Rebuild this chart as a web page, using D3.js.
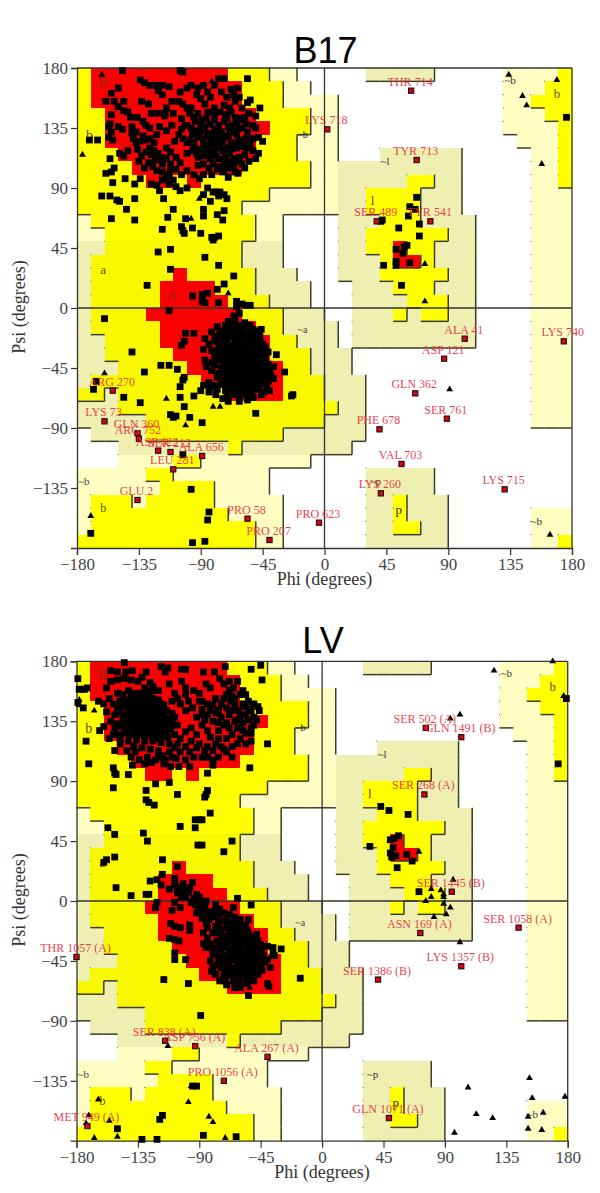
<!DOCTYPE html>
<html><head><meta charset="utf-8">
<style>html,body{margin:0;padding:0;background:#fff}svg{display:block}</style>
<script src="https://cdnjs.cloudflare.com/ajax/libs/d3/7.8.5/d3.min.js"></script>
</head><body><svg id="c" width="600" height="1193"></svg>
<script>
// Region map: 36 rows (psi 180 -> -180), 36 cols (phi -180 -> 180), 10 degree cells
const regionRows = [
"YRRRRRRRRRRYYYLL.....TTTTT.....LLLLY",
"YRRRRRRRRRRRYYYLL..............LLLYY",
"YRRRRRRRRRRRYYYLLLL............LLYYY",
"YYRRRRRRRRRRRYYYYLL............LLLYY",
"YYRRRRRRRRRRRRYYYLL............LLLLY",
"YYRRRRRRRRRRRYYYLLL.............LLLY",
"YYYRRRRRRRRRRYYYLLL...TTTTTT.....LLY",
"YYYYRRRRRRRRYYYYYLLTTTTTTTTT.....LLY",
"YYYYYRRYRYYYYYYYYLLTTTTTYYTT.....LLY",
"YYYYYYYYYYYYYYLLLLLTTYYYYTTT.....LLL",
"YYYYYYYYYYYYLLLLLLLTTYYYYTTT.....LLL",
"LYYYYYYYYYYYYLL....TTTYYYTTTT....LLL",
"LLYYYYYYYYYYYLL....TTYYYYYYTT....LLL",
"TTyyyyyyyyyyTTT....TTYYRYYTTT....LLL",
"TyyyyyyyyyyyTTT....TTTYRRYTTT....LLL",
"TyyyyyyRyyyyyTTT...TTTYYYYYTT....LLL",
"TyyyyyRRRRyyyTTTT...TTTYYYTTT....LLL",
"TyyyyyRRRRRyyyTTT...TTTTYYYTT....LLL",
"TyyyyRRRRRRRyyyTTT..TTTYTYYTT....LLL",
"TyyyyyRRRRRRRyyTTTT.TTTTTTTTT....LLL",
"TTyyyyRRRRRRRRyyTTT.TTTTTTTTT....LLL",
"TTyyyyyRRRRRRRyyyTTT.............LLL",
"TTTyyyyyRRRRRRRyyTTT.............LLL",
"TyyyyyyyyRRRRRRyyyTTT............LLL",
"yyTyyyyyyyyRRRRyyyTTT............LLL",
"TTTyyyyyyyyyyyyyyyYTT............LLL",
"TTTTTyyyyyyyyyyyyyTTT............LLL",
".TTTTyyyyyyyyyyTTTTTT...............",
"...TTTTTTTTYTTTTTTTT................",
"...LLLLYYLLLLLLLL...................",
"LLLLLYYLLLLLLL.......TTTTT..........",
"LLLLLLYYYYLLLL.......TTTTT..........",
"LYYYLYYYYYLLLLL......TTYTTT.........",
"LYYYYYYYYYYLLLL......TTYTTT......LLL",
"LYYYYYYYYYYYYLL......TTYYTT......LLL",
"YYYYYYYYYYYYYLL......TTTTTT......LLY"
];
const regionColors = {R:"#fa0000",Y:"#ffff00",y:"#f8f800",L:"#fefec2",T:"#efefb2"};
const regionRank = {R:4,Y:3,y:3,L:2,T:2,".":0};
const phiTicks = [-180,-135,-90,-45,0,45,90,135,180];
const psiTicks = [180,135,90,45,0,-45,-90,-135];

// region letters: [text, phi, psi, size, colour]
const regionNames = [
["B",-161,170,15,"#a02010"],["A",-111,9,15,"#a02010"],["b",-171,130,14,"#5a5000"],["a",-161,29,13,"#5a5000"],
["~b",-16,130,10,"#222"],["~a",-16,-16,10,"#444"],["~b",-175,-130,11,"#444"],["b",-161,-150,12,"#5a5000"],
["~b",135,171,11,"#333"],["b",169,161,13,"#5a5000"],["~l",44,110,11,"#333"],["l",35,81,13,"#5a5000"],
["~b",154,-160,11,"#333"],["~p",37,-130,11,"#333"],["p",54,-151,13,"#333"]
];

// ---- B17 ----
const b17Squares = [
[-147,178],[-105,178],[-103,177],[-77,172],[-73,172],[-56,172],[-134,171],[-131,169],[-127,167],[-150,165],[-122,167],[-118,167],[-113,166],[-105,162],[-100,165],[-97,167],[-88,167],[-92,165],[-80,167],[-68,164],[-63,165],[-85,162],
[-155,161],[-159,155],[-153,155],[-150,151],[-146,155],[-146,148],[-133,155],[-128,153],[-121,163],[-118,160],[-115,150],[-116,146],[-111,155],[-106,155],[-103,153],[-100,150],[-97,150],[-93,160],[-90,157],[-87,153],[-83,158],[-80,150],[-75,162],[-71,158],[-66,160],[-65,155],[-62,158],[-60,150],[-56,154],[-54,156],[-69,150],[-73,152],
[-155,145],[-143,147],[-141,143],[-136,143],[-132,140],[-126,146],[-121,146],[-116,144],[-110,146],[-104,142],[-98,146],[-94,140],[-89,141],[-85,147],[-80,145],[-76,147],[-72,145],[-68,147],[-65,143],[-60,141],[-55,146],[-50,144],[-47,150],[-157,136],[-155,132],[-156,138],[-150,136],[-147,134],[-130,137],[-127,135],[-120,136],[-115,133],[-111,137],[-104,134],[-100,137],[-96,130],[-90,133],[-87,136],[-84,128],[-80,134],[-77,137],[-75,132],[-70,136],[-67,137],[-63,134],[-60,135],[-56,132],[-52,137],[-50,135],
[-157,128],[-154,126],[-140,131],[-139,127],[-137,124],[-132,129],[-130,126],[-127,127],[-124,124],[-122,130],[-109,125],[-106,130],[-103,127],[-100,124],[-95,124],[-92,128],[-88,122],[-85,122],[-82,125],[-80,122],[-77,128],[-74,125],[-70,128],[-68,123],[-64,130],[-62,126],[-60,121],[-57,127],[-52,127],[-48,128],[-45,125],
[-149,116],[-146,114],[-143,118],[-136,119],[-133,114],[-130,117],[-126,115],[-123,111],[-128,109],[-118,108],[-115,120],[-112,117],[-108,113],[-105,109],[-100,116],[-96,118],[-92,113],[-90,119],[-86,116],[-83,112],[-80,117],[-77,112],[-74,118],[-72,113],[-69,116],[-67,108],[-64,120],[-62,113],[-58,115],[-55,110],[-52,118],[-50,112],[-48,116],
[-122,103],[-118,102],[-113,100],[-108,104],[-104,100],[-100,103],[-95,100],[-91,97],[-88,100],[-82,100],[-78,104],[-74,102],[-70,98],[-66,106],[-63,101],[-134,97],[-126,93],[-122,92],[-120,88],[-113,93],[-110,96],[-108,91],[-105,88],[-100,90],[-159,101],[-155,102],[-153,105],[-156,112],[-154,94],[-145,97],[-138,93],[-171,126],[-165,126],
[-81,87],[-79,87],[-76,87],[-73,85],[-71,82],[-77,84],[-83,80],[-88,85],[-85,90],
[-162,84],[-156,84],[-151,81],[-149,80],[-138,82],[-117,82],[-144,74],[-155,67],[-138,66],[-110,74],[-114,68],[-101,67],[-88,74],[-88,69],[-78,70],[-73,73],[-74,66],[-118,59],[-104,61],[-103,58],[-102,56],[-96,60],[-90,56],[-82,53],[-80,53],[-77,54],[-81,51],[-121,42],[-112,44],[-87,38],[-77,32],[-112,29],[-66,24],[-129,17],[-73,18],[-78,14],[-96,9],[-89,10],[-85,11],[-89,5],[-87,4],[-77,4],[-64,5],[-60,3],[-57,2],[-54,2],[-64,1],
[-160,-8],[-140,-33],[-131,-48],[-119,-43],[-113,-43],[-107,-46],[-103,-54],[-102,-52],[-105,-59],[-105,-67],[-95,-66],[-102,-74],[-112,-80],[-110,-82],[-108,-81],[-98,-82],[-89,-86],[-134,-71],[-146,-67],[-168,-61],[-166,-55],[-50,-79],[-23,-65],[-24,-66],[-35,-35],[-29,-48],[-46,-16],[-113,-2],[-101,-19],[-95,-19],[-102,-25],[-104,-28],[-103,-110],
[-66,-6],[-62,-4],[-70,-10],[-65,-9],[-58,-11],[-54,-13],[-78,-14],[-72,-13],[-67,-15],[-62,-14],[-56,-15],[-52,-16],[-82,-18],[-76,-19],[-71,-17],[-66,-19],[-61,-18],[-57,-20],[-52,-21],[-48,-18],[-87,-23],[-80,-22],[-74,-24],[-69,-22],[-64,-23],[-59,-22],[-54,-25],[-50,-23],[-84,-27],[-76,-28],[-71,-26],[-67,-28],[-62,-27],[-57,-29],[-53,-26],[-49,-28],[-45,-27],[-88,-31],[-82,-32],[-77,-30],[-73,-33],[-68,-31],[-64,-32],[-60,-30],[-55,-33],[-50,-31],[-46,-33],[-80,-36],[-76,-35],[-71,-37],[-66,-35],[-62,-36],[-58,-34],[-53,-37],[-48,-35],[-43,-37],[-87,-39],[-82,-41],[-78,-39],[-72,-40],[-68,-39],[-64,-41],[-59,-40],[-55,-38],[-51,-41],[-45,-39],[-41,-42],[-86,-44],[-80,-43],[-75,-45],[-70,-43],[-65,-44],[-61,-46],[-57,-43],[-52,-45],[-47,-43],[-42,-46],[-37,-44],[-82,-47],[-77,-49],[-72,-47],[-68,-50],[-63,-48],[-58,-49],[-54,-47],[-49,-50],[-44,-48],[-39,-50],[-78,-52],[-73,-53],[-68,-54],[-64,-52],[-60,-55],[-55,-52],[-50,-54],[-45,-52],[-41,-55],[-37,-53],[-84,-56],[-80,-58],[-75,-57],[-70,-58],[-65,-56],[-61,-59],[-56,-57],[-52,-58],[-47,-56],[-42,-59],[-88,-58],[-83,-60],[-78,-61],[-72,-62],[-68,-60],[-63,-62],[-58,-61],[-53,-63],[-48,-60],[-44,-63],[-90,-62],[-84,-63],[-79,-65],[-71,-66],[-66,-65],[-62,-66],[-57,-65],[-52,-67],[-46,-65],[-40,-62],[-74,-68],[-70,-70],[-62,-70],[-56,-69],[-52,-67],
[-97,-136],[-84,-153],[-85,-159],[-96,-176],[-87,-175],[-170,-169],
[67,83],[62,76],[66,74],[61,69],[42,66],[41,65],[69,63],[54,60],[69,54],[60,47],[58,46],[52,44],[57,41],[52,35],[52,32],[62,34],[43,32],[56,17],[176,143]
];
const b17CloudMore = [
[-98,148],[-95,143],[-92,146],[-90,137],[-86,142],[-83,138],[-80,141],[-78,133],[-73,140],[-71,142],[-69,132],[-66,134],[-64,139],[-62,142],[-58,143],[-57,138],[-97,135],[-94,133],[-91,130],[-88,127],[-85,131],[-82,130],[-79,126],[-76,124],[-73,129],[-71,120],[-68,119],[-65,124],[-62,122],[-59,124],[-56,120],[-54,122],[-98,126],[-95,120],[-93,116],[-88,114],[-85,118],[-82,116],[-79,114],[-76,120],[-73,108],[-70,110],[-66,112],[-63,110],[-60,108],[-58,105],[-92,107],[-88,108],[-84,105],[-81,108],[-77,106],[-73,103],[-69,105],[-65,102],
[-140,136],[-137,132],[-134,125],[-127,120],[-124,118],[-121,116],[-118,113],[-115,112],[-112,108],[-135,110],[-131,105],[-125,106],[-118,96],[-115,98],[-112,104]
];
const b17CoreMore = [
[-68,-13],[-63,-13],[-58,-13],[-74,-17],[-69,-17],[-64,-17],[-59,-17],[-54,-17],[-49,-17],[-77,-21],[-72,-21],[-67,-21],[-62,-21],[-57,-21],[-52,-21],[-47,-21],[-79,-25],[-73,-25],[-65,-25],[-60,-25],[-55,-25],[-51,-25],[-47,-25],[-75,-29],[-70,-29],[-65,-29],[-59,-29],[-52,-29],[-47,-29],[-43,-29],[-78,-33],[-74,-33],[-69,-33],[-64,-33],[-60,-33],[-56,-33],[-51,-33],[-45,-33],[-41,-33],[-74,-37],[-69,-37],[-64,-37],[-60,-37],[-56,-37],[-50,-37],[-46,-37],[-74,-41],[-70,-41],[-66,-41],[-62,-41],[-57,-41],[-53,-41],[-48,-41],[-44,-41],[-73,-45],[-68,-45],[-63,-45],[-59,-45],[-55,-45],[-50,-45],[-45,-45],[-40,-45],[-75,-49],[-70,-49],[-65,-49],[-61,-49],[-56,-49],[-52,-49],[-47,-49],[-42,-49],[-71,-53],[-66,-53],[-62,-53],[-57,-53],[-53,-53],[-48,-53],[-43,-53],[-73,-57],[-68,-57],[-63,-57],[-58,-57],[-54,-57],[-49,-57],[-45,-57],[-70,-61],[-65,-61],[-60,-61],[-55,-61],[-50,-61]
];
const b17Triangles = [[-70,11],[-91,82],[-97,67],[-176,115],[-103,137],[-82,170],[-162,175],[-160,-49],[-115,-68],[-81,-74],[-76,-74],[-101,-88],[-170,-156],[73,33],[73,5],[134,175],[169,171],[144,159],[147,152],[158,108],[91,-61],[164,-170]];
const b17Labels = [
["THR 714",63,163],["LYS 718",2,134],["TYR 713",67,111],["SER 489",38,65],["TYR 541",77,65],["ALA 41",102,-23],["LYS 740",174,-25],["ASP 121",87,-38],["GLN 362",66,-64],["SER 761",89,-83],["PHE 678",40,-91],["VAL 703",56,-117],["LYS 260",41,-139],["LYS 715",131,-136],["PRO 623",-4,-161],
["ARG 270",-154,-62],["LYS 73",-160,-85],["GLN 360",-136,-94],["ARG 752",-135,-98],["ASP 622",-121,-107],["SER 212",-112,-108],["ALA 656",-89,-111],["LEU 281",-110,-121],["GLU 2",-136,-144],["PRO 58",-56,-158],["PRO 207",-40,-174]
];

// ---- LV ----
const lvSquares = [
[-145,179],[-155,173],[-150,172],[-144,172],[-139,173],[-129,172],[-118,176],[-113,175],[-115,172],[-103,174],[-100,174],[-87,172],[-79,172],[-71,176],[-52,174],[-45,177],[-44,166],[-179,167],[-178,159],[-176,159],[-174,159],[-172,160],[-179,149],[-175,145],[-163,128],[-160,131],[-173,120],[-171,103],
[-164,150],[-160,148],[-158,160],[-155,165],[-150,166],[-145,167],[-140,166],[-135,165],[-130,160],[-125,158],[-120,158],[-158,142],[-155,135],[-152,130],[-150,125],[-148,118],[-152,113],[-143,113],[-137,112],
[-150,156],[-146,155],[-142,158],[-138,156],[-134,156],[-130,155],[-126,153],[-122,150],[-148,150],[-144,151],[-140,150],[-136,151],[-132,150],[-128,149],[-124,148],[-120,146],[-116,147],[-150,145],[-146,146],[-142,145],[-138,146],[-134,145],[-130,146],[-126,144],[-122,145],[-118,143],[-114,143],[-110,141],[-148,141],[-144,140],[-140,141],[-136,140],[-132,141],[-128,140],[-124,141],[-120,139],[-116,138],[-112,137],[-108,138],[-146,136],[-142,135],[-138,136],[-134,135],[-130,136],[-126,135],[-122,136],[-118,134],[-114,133],[-110,134],[-106,132],[-147,131],[-143,130],[-139,131],[-135,130],[-131,131],[-127,130],[-123,131],[-119,129],[-115,128],[-111,129],[-145,126],[-141,125],[-137,126],[-133,125],[-129,126],[-125,125],[-121,126],[-117,124],[-113,123],[-108,125],[-148,122],[-142,120],[-136,121],[-130,120],[-124,120],[-118,119],[-112,118],[-106,118],[-138,116],[-132,115],[-126,114],[-120,113],
[-128,108],[-122,106],[-117,109],[-112,112],[-107,107],[-104,112],[-100,106],[-134,106],[-130,103],[-116,103],[-111,101],[-105,101],
[-103,165],[-100,160],[-100,155],[-98,150],[-94,158],[-90,156],[-88,150],[-85,163],[-82,160],[-78,152],[-75,167],[-72,163],[-68,165],[-65,160],[-62,165],[-58,158],[-56,155],[-104,148],[-100,143],[-95,145],[-92,138],[-88,144],[-84,140],[-80,147],[-76,143],[-74,138],[-70,145],[-67,150],[-64,147],[-61,143],[-58,148],[-54,150],[-50,148],[-47,146],[-52,143],[-56,140],[-60,138],[-64,135],[-68,140],[-72,132],[-76,128],[-80,135],[-84,128],[-88,132],[-92,125],[-96,130],[-100,127],[-104,122],[-62,130],[-58,134],[-54,136],[-50,132],[-56,126],[-52,126],[-66,125],[-70,122],[-74,116],[-78,118],[-82,123],[-86,113],[-90,118],[-94,108],[-97,112],[-84,108],[-80,106],[-76,108],[-72,114],[-66,116],[-62,118],[-80,102],[-97,101],[-53,100],[-40,118],
[-153,100],[-152,96],[-151,95],[-153,85],[-142,95],[-139,102],[-129,83],[-129,76],[-127,74],[-123,72],[-122,88],[-112,89],[-106,80],[-84,83],[-85,80],[-86,78],[-84,96],[-82,66],[-93,61],[-90,61],[-88,61],[-104,56],[-93,55],[-157,55],[-152,50],[-131,51],[-128,45],[-91,42],[-88,42],[-72,37],[-66,45],[-158,31],[-160,29],[-152,33],[-117,31],[-106,26],[-126,15],[-121,16],[-117,20],[-118,12],[-151,10],[-140,4],[-129,5],[-127,5],[-62,2],
[-122,-5],[-121,-1],[-110,-7],[-108,-1],[-104,-5],[-102,13],[-108,17],[-100,8],[-95,14],[-92,5],[-112,9],[-106,6],[-96,-1],[-90,-1],[-86,-4],[-82,-8],[-78,-3],[-92,-9],[-88,-13],[-83,-14],[-76,-11],[-72,-15],[-78,-19],[-84,-20],[-74,-21],
[-111,-17],[-108,-19],[-104,-20],[-97,-18],[-97,-22],[-112,-28],[-108,-29],[-105,-30],[-108,-39],[-108,-44],[-100,-44],[-87,-24],[-87,-32],[-85,-35],[-81,-53],[-77,-48],[-72,-59],[-71,-60],[-40,-62],[-39,-64],[-54,-71],[-52,-59],[-116,-59],[-98,-62],[-89,-86],[-16,-58],[-30,-36],[-36,-35],[-35,-41],[-52,-3],[-65,-5],[-54,-14],
[-66,-16],[-62,-14],[-58,-18],[-70,-20],[-64,-21],[-60,-20],[-55,-22],[-74,-26],[-68,-25],[-63,-26],[-58,-25],[-53,-27],[-48,-25],[-77,-30],[-72,-31],[-67,-30],[-62,-31],[-57,-29],[-52,-32],[-47,-30],[-80,-35],[-75,-36],[-70,-35],[-65,-36],[-60,-34],[-55,-36],[-50,-35],[-44,-36],[-40,-34],[-78,-40],[-73,-41],[-68,-39],[-63,-41],[-58,-40],[-53,-41],[-48,-39],[-43,-41],[-76,-45],[-71,-46],[-66,-44],[-61,-46],[-56,-44],[-51,-46],[-46,-44],[-42,-46],[-74,-50],[-69,-51],[-64,-50],[-59,-52],[-54,-50],[-49,-51],[-45,-49],[-72,-55],[-67,-56],[-62,-55],[-57,-56],[-52,-54],[-47,-55],[-65,-60],[-60,-60],[-64,-65],
[-132,-179],[-121,-179],[-150,-171],[-119,-164],[-117,-161],[-95,-139],[-92,-139],[-87,-176],[-63,-177],
[43,71],[49,68],[63,65],[35,41],[56,49],[50,46],[53,47],[52,40],[50,36],[51,33],[54,34],[62,35],[66,30],[55,25],[71,7],[179,152],[173,103]
];
const lvCloudMore = [
[-140,153],[-136,154],[-132,153],[-128,152],[-124,152],[-120,151],[-142,148],[-138,148],[-134,148],[-130,148],[-126,147],[-122,147],[-118,148],[-140,143],[-136,143],[-132,143],[-128,143],[-124,143],[-120,143],[-116,141],[-142,138],[-138,138],[-134,138],[-130,138],[-126,138],[-122,138],[-118,137],[-114,136],[-140,133],[-136,133],[-132,133],[-128,133],[-124,133],[-120,132],[-116,131],[-112,131],[-138,128],[-134,128],[-130,128],[-126,128],[-122,128],[-118,126],[-114,126],[-136,123],[-130,123],[-124,122],[-120,122],
[-132,168],[-126,164],[-124,161],[-112,163],[-108,156],[-106,152],[-110,150],[-156,152],[-153,148],[-152,140],[-150,133],[-153,125],[-156,122],[-140,108],[-125,104],[-120,108],[-115,106],[-110,108],[-100,116],[-108,115],
[-90,150],[-88,140],[-86,136],[-84,148],[-82,143],[-78,141],[-76,134],[-74,148],[-72,152],[-70,134],[-68,130],[-66,143],[-64,152],[-62,136],[-60,130],[-58,128],[-56,146],[-54,144],[-52,130],[-50,138],[-48,136],[-46,143],[-96,120],[-92,115],[-88,108],[-84,116],[-70,112],[-66,108],[-76,122],[-80,113],[-60,122],[-56,118],[-52,120],[-70,155],[-68,158],[-66,154],[-60,155]
];
const lvCoreMore = [
[-108,12],[-106,10],[-104,8],[-103,3],[-100,3],[-98,7],[-97,10],[-94,2],[-90,3],[-88,-1],[-85,0],[-93,-3],[-90,-6],[-87,-8],[-84,-10],[-81,-12],[-85,-17],[-78,-7],[-75,-6],[-72,-9],[-70,-13],[-68,-10],[-76,-16],[-80,-24],[-76,-24],[-72,-26],[-84,-28],[-82,-32],[-80,-40],[-82,-45],[-80,-50],[-78,-55],[-75,-60],[-70,-63],[-60,-65],[-55,-62],[-50,-60],[-44,-52],[-40,-44],[-38,-50],[-36,-40],
[-64,-12],[-60,-14],[-68,-17],[-64,-18],[-60,-16],[-56,-19],[-68,-22],[-62,-23],[-58,-22],[-54,-24],[-72,-28],[-66,-27],[-60,-28],[-55,-29],[-50,-28],[-75,-33],[-70,-32],[-65,-33],[-60,-32],[-55,-33],[-50,-33],[-45,-33],[-74,-38],[-68,-36],[-64,-38],[-60,-38],[-55,-38],[-50,-38],[-46,-38],[-74,-43],[-70,-43],[-66,-42],[-62,-43],[-58,-42],[-54,-43],[-50,-43],[-46,-42],[-72,-48],[-68,-48],[-62,-48],[-58,-48],[-53,-48],[-48,-47],[-70,-53],[-66,-53],[-60,-53],[-55,-53],[-50,-53],[-65,-57],[-60,-57],[-55,-58]
];
const lvTriangles = [[-178,147],[-178,151],[-167,143],[-164,-149],[-171,-161],[-173,-167],[-167,-178],[-156,-165],[-150,-177],[-113,-109],[-98,-151],[-83,-162],[-80,-166],[-71,-178],[-96,-139],[-53,-65],
[71,37],[96,16],[80,9],[87,8],[89,5],[80,3],[76,0],[89,3],[89,-2],[94,-5],[91,-10],[82,-12],[101,-31],[107,-140],[113,-160],[125,-163],[97,-174],[152,-133],[154,-148],[178,-147],[162,-159],[151,-162],[151,-171],[161,-172],[126,173],[169,180],[94,137],[101,140],[177,154]];
const lvLabels = [
["SER 502 (A)",76,130],["GLN 1491 (B)",102,123],["SER 268 (A)",75,80],["SER 1445 (B)",95,7],["ASN 169 (A)",72,-24],["SER 1058 (A)",144,-20],["LYS 1357 (B)",102,-49],["SER 1386 (B)",41,-59],["GLN 1071 (A)",49,-163],["THR 1057 (A)",-180,-42],["SER 838 (A)",-115,-105],["ASP 756 (A)",-93,-109],["ALA 267 (A)",-40,-117],["PRO 1056 (A)",-72,-135],["MET 949 (A)",-172,-169]
];

const svg = d3.select("#c");
const serif = "'Liberation Serif','Times New Roman',serif";

function panel(title, titleX, titleY, frame, squares, triangles, labels){
  const x = d3.scaleLinear().domain([-180,180]).range([frame.x0,frame.x1]);
  const y = d3.scaleLinear().domain([-180,180]).range([frame.y1,frame.y0]);
  const g = svg.append("g");
  const cells = [];
  regionRows.forEach((row,r)=>{ for(let c=0;c<36;c++){ cells.push({r,c,k:row[c]}); }});
  const at=(r,c)=> (r<0||r>35||c<0||c>35) ? "." : regionRows[r][c];
  const px=c=>x(-180+c*10), py=r=>y(180-r*10);
  g.append("g").attr("shape-rendering","crispEdges").selectAll("rect").data(cells.filter(d=>d.k!=="."))
    .join("rect").attr("x",d=>px(d.c)).attr("y",d=>py(d.r))
    .attr("width",d=>px(d.c+1)-px(d.c)+.5).attr("height",d=>py(d.r+1)-py(d.r)+.5)
    .attr("fill",d=>regionColors[d.k]);
  const edges=[], dots=[];
  cells.forEach(d=>{
    const rk=regionRank[d.k];
    if(rk===0) return;
    const noBorder = d.k==="R" && d.c<18;
    if(!noBorder && d.c<35 && regionRank[at(d.r,d.c+1)]<rk) edges.push([px(d.c+1),py(d.r),px(d.c+1),py(d.r+1)]);
    if(!noBorder && d.r<35 && regionRank[at(d.r+1,d.c)]<rk) edges.push([px(d.c),py(d.r+1),px(d.c+1),py(d.r+1)]);
    if(d.c>0 && rk<4 && regionRank[at(d.r,d.c-1)]<rk) dots.push([px(d.c),py(d.r)]);
  });
  g.append("g").selectAll("line").data(edges).join("line")
    .attr("x1",d=>d[0]).attr("y1",d=>d[1]).attr("x2",d=>d[2]).attr("y2",d=>d[3])
    .attr("stroke","#3c3c28").attr("stroke-width",1.5);
  g.append("g").selectAll("rect").data(dots).join("rect")
    .attr("x",d=>d[0]-.5).attr("y",d=>d[1]-.5).attr("width",1).attr("height",1).attr("fill","#666");
  const ax = d3.axisBottom(x).tickValues(phiTicks).tickSize(7).tickPadding(3);
  const ay = d3.axisLeft(y).tickValues(psiTicks).tickSize(6).tickPadding(3);
  const styleAxis=s=>{s.selectAll("text").attr("font-family",serif).attr("font-size",17).attr("fill","#444");
    s.selectAll("line").attr("stroke","#333").attr("stroke-width",1.2);
    s.select(".domain").attr("stroke","#333").attr("stroke-width",1.3);};
  g.append("g").attr("transform",`translate(0,${frame.y1})`).call(ax).call(styleAxis);
  g.append("g").attr("transform",`translate(${frame.x0},0)`).call(ay).call(styleAxis);
  const gl=g.append("g").attr("stroke","#333").attr("stroke-width",1.3);
  gl.append("line").attr("x1",frame.x0).attr("x2",frame.x1).attr("y1",y(180)).attr("y2",y(180));
  gl.append("line").attr("x1",frame.x1).attr("x2",frame.x1).attr("y1",y(180)).attr("y2",y(-180));
  gl.append("line").attr("x1",x(0)).attr("x2",x(0)).attr("y1",y(180)).attr("y2",y(-180));
  gl.append("line").attr("x1",frame.x0).attr("x2",frame.x1).attr("y1",y(0)).attr("y2",y(0));
  g.append("g").selectAll("text").data(regionNames).join("text")
    .attr("x",d=>x(d[1])).attr("y",d=>y(d[2])).attr("dy","0.35em").attr("text-anchor","middle")
    .attr("font-family",serif).attr("font-size",d=>d[3]).attr("fill",d=>d[4]).text(d=>d[0]);
  const s=6.8;
  g.append("g").selectAll("rect").data(squares).join("rect")
    .attr("x",d=>x(d[0])-s/2).attr("y",d=>y(d[1])-s/2).attr("width",s).attr("height",s).attr("fill","#000");
  const tri=d3.symbol().type(d3.symbolTriangle).size(20);
  g.append("g").selectAll("path").data(triangles).join("path")
    .attr("transform",d=>`translate(${x(d[0])},${y(d[1])})`).attr("d",tri).attr("fill","#000");
  g.append("g").selectAll("rect").data(labels).join("rect")
    .attr("x",d=>x(d[1])-2.6).attr("y",d=>y(d[2])-2.6).attr("width",5.2).attr("height",5.2)
    .attr("fill","#e00010").attr("stroke","#111").attr("stroke-width",1.1);
  g.append("g").selectAll("text").data(labels).join("text")
    .attr("x",d=>x(d[1])-1).attr("y",d=>y(d[2])-5).attr("text-anchor","middle")
    .attr("font-family",serif).attr("font-size",12).attr("fill","#e8283c").attr("fill-opacity",.9).text(d=>d[0]);
  g.append("text").attr("x",titleX).attr("y",titleY).attr("text-anchor","middle")
    .attr("font-family","'Liberation Sans',Arial,sans-serif").attr("font-size",36).attr("fill","#000").text(title);
  g.append("text").attr("x",x(0)).attr("y",frame.y1+37).attr("text-anchor","middle")
    .attr("font-family",serif).attr("font-size",18).attr("fill","#333").text("Phi (degrees)");
  g.append("text").attr("transform",`translate(25,${y(0)-1}) rotate(-90)`).attr("text-anchor","middle")
    .attr("font-family",serif).attr("font-size",18).attr("fill","#333").text("Psi (degrees)");
}
panel("B17",325.5,63,{x0:77,x1:572,y0:68,y1:548},b17Squares.concat(b17CloudMore,b17CoreMore),b17Triangles,b17Labels);
panel("LV",323,653,{x0:76.5,x1:567.7,y0:661.3,y1:1140.7},lvSquares.concat(lvCloudMore,lvCoreMore),lvTriangles,lvLabels);
</script></body></html>
